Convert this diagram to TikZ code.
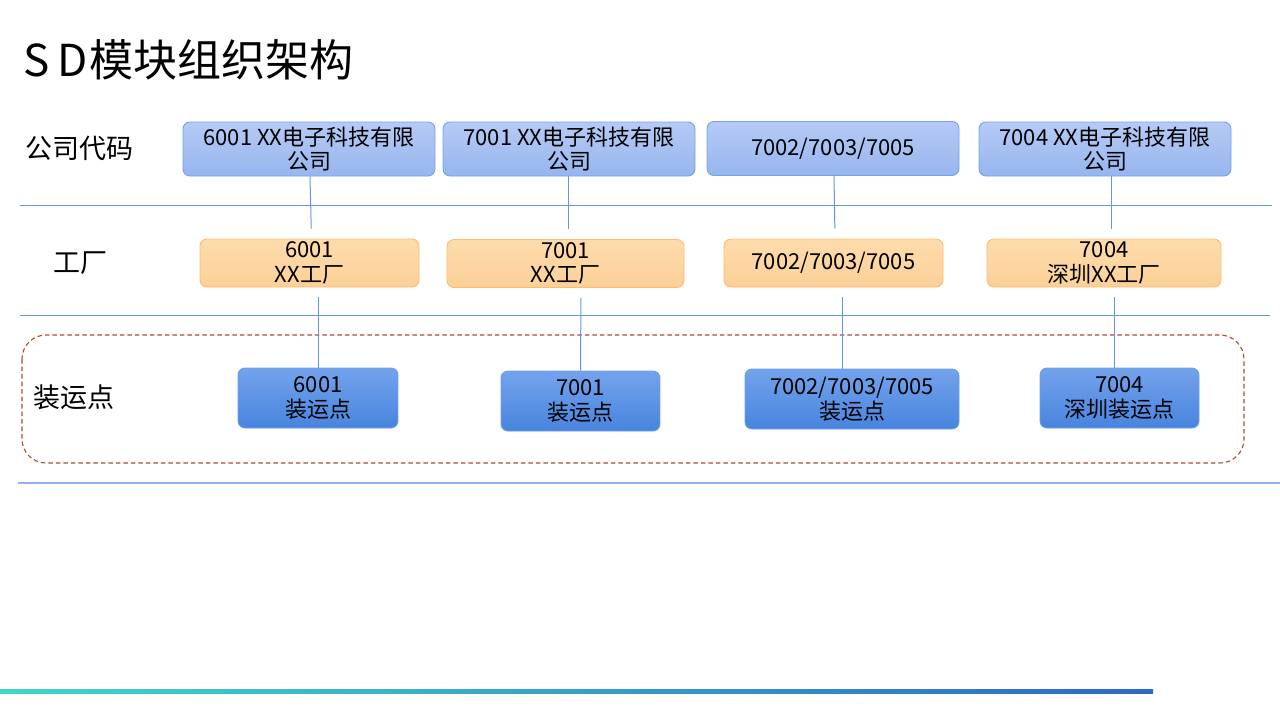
\documentclass[tikz,border=0pt]{standalone}
\usepackage{fontspec}
\setmainfont{Noto Sans CJK SC}
\usetikzlibrary{calc}
\definecolor{lineblue}{RGB}{100,150,228}
\definecolor{lightline}{RGB}{140,180,235}
\definecolor{topA}{RGB}{182,202,245}
\definecolor{topB}{RGB}{150,182,238}
\definecolor{topD}{RGB}{120,160,230}
\definecolor{orA}{RGB}{253,220,172}
\definecolor{orB}{RGB}{252,208,152}
\definecolor{orD}{RGB}{250,190,110}
\definecolor{btA}{RGB}{115,163,236}
\definecolor{btB}{RGB}{72,132,222}
\definecolor{btD}{RGB}{110,158,230}
\definecolor{dashred}{RGB}{180,70,50}
\definecolor{tealc}{RGB}{64,215,200}
\definecolor{deepb}{RGB}{45,105,200}
\tikzset{
  x=1pt,y=-1pt,
  boxbase/.style={rounded corners=7pt, line width=0.9pt, inner sep=0pt, align=center,
     font=\fontsize{22}{24.5}\selectfont, text=black},
  topbox/.style={boxbase, draw=topD, top color=topA, bottom color=topB,
     minimum width=252pt, minimum height=54pt},
  orbox/.style={boxbase, draw=orD, top color=orA, bottom color=orB, minimum height=48pt},
  btbox/.style={boxbase, draw=btD, top color=btA, bottom color=btB, minimum width=160pt, minimum height=60pt},
  rowlabel/.style={anchor=west, inner sep=0pt, font=\fontsize{27}{30}\selectfont},
  conn/.style={draw=lineblue, line width=1pt},
  sep/.style={draw=lineblue, line width=1pt},
}
\begin{document}
\begin{tikzpicture}
\useasboundingbox (0,0) rectangle (1280,720);
% title
\node[anchor=west, inner sep=0pt, font=\fontsize{44}{48}\selectfont] (title) at (23,60) {S\kern8pt D\kern2pt 模块组织架构};
% row labels
\node[rowlabel] (l1) at (25,148) {公司代码};
\node[rowlabel] (l2) at (53,263) {工厂};
\node[rowlabel] (l3) at (33,397) {装运点};
% separators
\draw[sep] (20,205) -- (1272,205);
\draw[sep] (20,315) -- (1270,315);
\draw[draw=lightline, line width=1.2pt] (18,483) -- (1280,483);
% dashed group
\draw[dashred, dash pattern=on 4.5pt off 3pt, line width=1.1pt, rounded corners=24pt] (22,335) rectangle (1244,463);
% top boxes
\node[topbox] (t1) at (309,149) {6001 XX电子科技有限\\公司};
\node[topbox] (t2) at (569,149) {7001 XX电子科技有限\\公司};
\node[topbox] (t3) at (833,148.5) {7002/7003/7005};
\node[topbox] (t4) at (1105,149) {7004 XX电子科技有限\\公司};
% factory boxes
\node[orbox, minimum width=219pt] (o1) at (309.5,263) {6001\\XX工厂};
\node[orbox, minimum width=237pt] (o2) at (565.5,263.5) {7001\\XX工厂};
\node[orbox, minimum width=219pt] (o3) at (833.5,263) {7002/7003/7005};
\node[orbox, minimum width=234pt] (o4) at (1104,263) {7004\\深圳XX工厂};
% shipping points
\node[btbox] (b1) at (318,398) {6001\\装运点};
\node[btbox, minimum width=159pt] (b2) at (580.5,401) {7001\\装运点};
\node[btbox, minimum width=214pt] (b3) at (852,399) {7002/7003/7005\\装运点};
\node[btbox, minimum width=159pt] (b4) at (1119.5,398) {7004\\深圳装运点};
% connectors
\draw[conn, shorten >=10pt] ([xshift=1pt]t1.south) -- ([xshift=2pt]o1.north);
\draw[conn, shorten >=10pt] ([xshift=-1pt]t2.south) -- ([xshift=2.5pt]o2.north);
\draw[conn, shorten >=10pt] ([xshift=1pt]t3.south) -- ([xshift=1.5pt]o3.north);
\draw[conn, shorten >=10pt] ([xshift=6pt]t4.south) -- ([xshift=7pt]o4.north);
\draw[conn, shorten <=10pt] ([xshift=8.5pt]o1.south) -- (b1.north);
\draw[conn, shorten <=10pt] ([xshift=15.5pt]o2.south) -- (b2.north);
\draw[conn, shorten <=10pt] ([xshift=8.5pt]o3.south) -- ([xshift=-10pt]b3.north);
\draw[conn, shorten <=10pt] ([xshift=10pt]o4.south) -- ([xshift=-5.5pt]b4.north);
% bottom gradient bar
\shade[left color=tealc, right color=deepb] (0,689.5) rectangle (1153,693);
\end{tikzpicture}
\end{document}
